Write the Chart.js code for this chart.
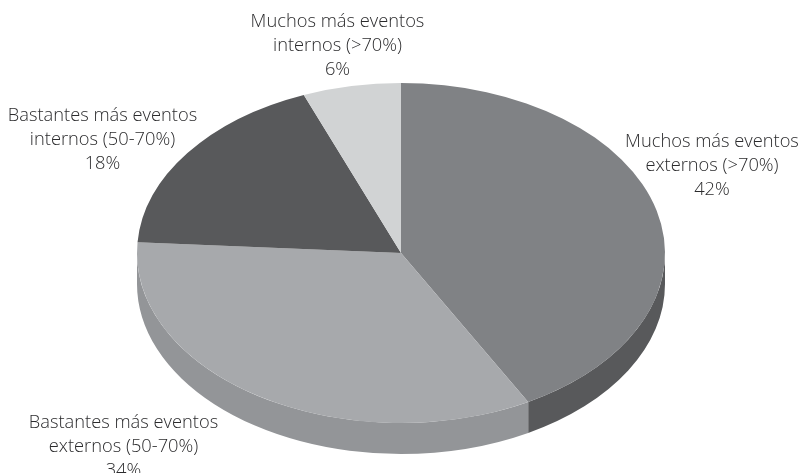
<!DOCTYPE html>
<html>
<head>
<meta charset="utf-8">
<script src="https://cdn.jsdelivr.net/npm/chart.js@4"></script>
<style>
    html, body { margin: 0; padding: 0; background: #fff; overflow: hidden; }
    #wrap { width: 802px; height: 473px; }
</style>
</head>
<body>
<div id="wrap"><canvas id="pieChart"></canvas></div>
<script>
// Reparto de eventos internos y externos
const categories = [
    ['Muchos más eventos', 'externos (>70%)'],
    ['Bastantes más eventos', 'externos (50-70%)'],
    ['Bastantes más eventos', 'internos (50-70%)'],
    ['Muchos más eventos', 'internos (>70%)']
];
const values = [42, 34, 18, 6];
const topColors = ['#808285', '#a7a9ac', '#58595b', '#d1d3d4'];
const sideColors = ['#58595b', '#939598', '#58595b', '#939598'];

// Tilted disc: horizontal and vertical radius of the top face, and rim height
const RX = 264, RY = 170, DEPTH = 31;

// Label centres (x of the block, y of the first line)
const labelX = [712, 123.5, 102.5, 337.5];
const labelY = [142, 423, 116, 22];
const LINE_HEIGHT = 23.7;

const tiltPlugin = {
    id: 'tilt',
    beforeDatasetsDraw(chart) {
        const ctx = chart.ctx;
        const arcs = chart.getDatasetMeta(0).data;

        // Rim: only the part of each slice facing the viewer (0 to PI on canvas)
        arcs.forEach((arc, i) => {
            const a0 = Math.max(arc.startAngle, 0);
            const a1 = Math.min(arc.endAngle, Math.PI);
            if (a1 <= a0) return;
            ctx.beginPath();
            ctx.ellipse(arc.x, arc.y, RX, RY, 0, a0, a1);
            ctx.ellipse(arc.x, arc.y + DEPTH, RX, RY, 0, a1, a0, true);
            ctx.closePath();
            ctx.fillStyle = sideColors[i];
            ctx.fill();
        });

        // Squash the round pie into the top face
        const { x, y, outerRadius } = arcs[0];
        ctx.save();
        ctx.translate(x, y);
        ctx.scale(RX / outerRadius, RY / outerRadius);
        ctx.translate(-x, -y);
    },
    afterDatasetsDraw(chart) {
        chart.ctx.restore();
    },
    afterDraw(chart) {
        const ctx = chart.ctx;
        ctx.save();
        ctx.font = '300 18.3px "Open Sans"';
        ctx.fillStyle = '#2b2b2d';
        ctx.textAlign = 'center';
        ctx.textBaseline = 'middle';
        categories.forEach((lines, i) => {
            const rows = [...lines, values[i] + '%'];
            rows.forEach((row, r) => {
                ctx.fillText(row, labelX[i], labelY[i] + r * LINE_HEIGHT);
            });
        });
        ctx.restore();
    }
};

new Chart(document.getElementById('pieChart').getContext('2d'), {
    type: 'pie',
    data: {
        labels: categories.map(lines => lines.join(' ')),
        datasets: [{
            data: values,
            backgroundColor: topColors,
            borderWidth: 0,
            clip: false
        }]
    },
    options: {
        responsive: true,
        maintainAspectRatio: false,
        animation: false,
        layout: { padding: { top: 33 } },
        plugins: {
            legend: { display: false },
            tooltip: { enabled: false }
        }
    },
    plugins: [tiltPlugin]
});
</script>
</body>
</html>
